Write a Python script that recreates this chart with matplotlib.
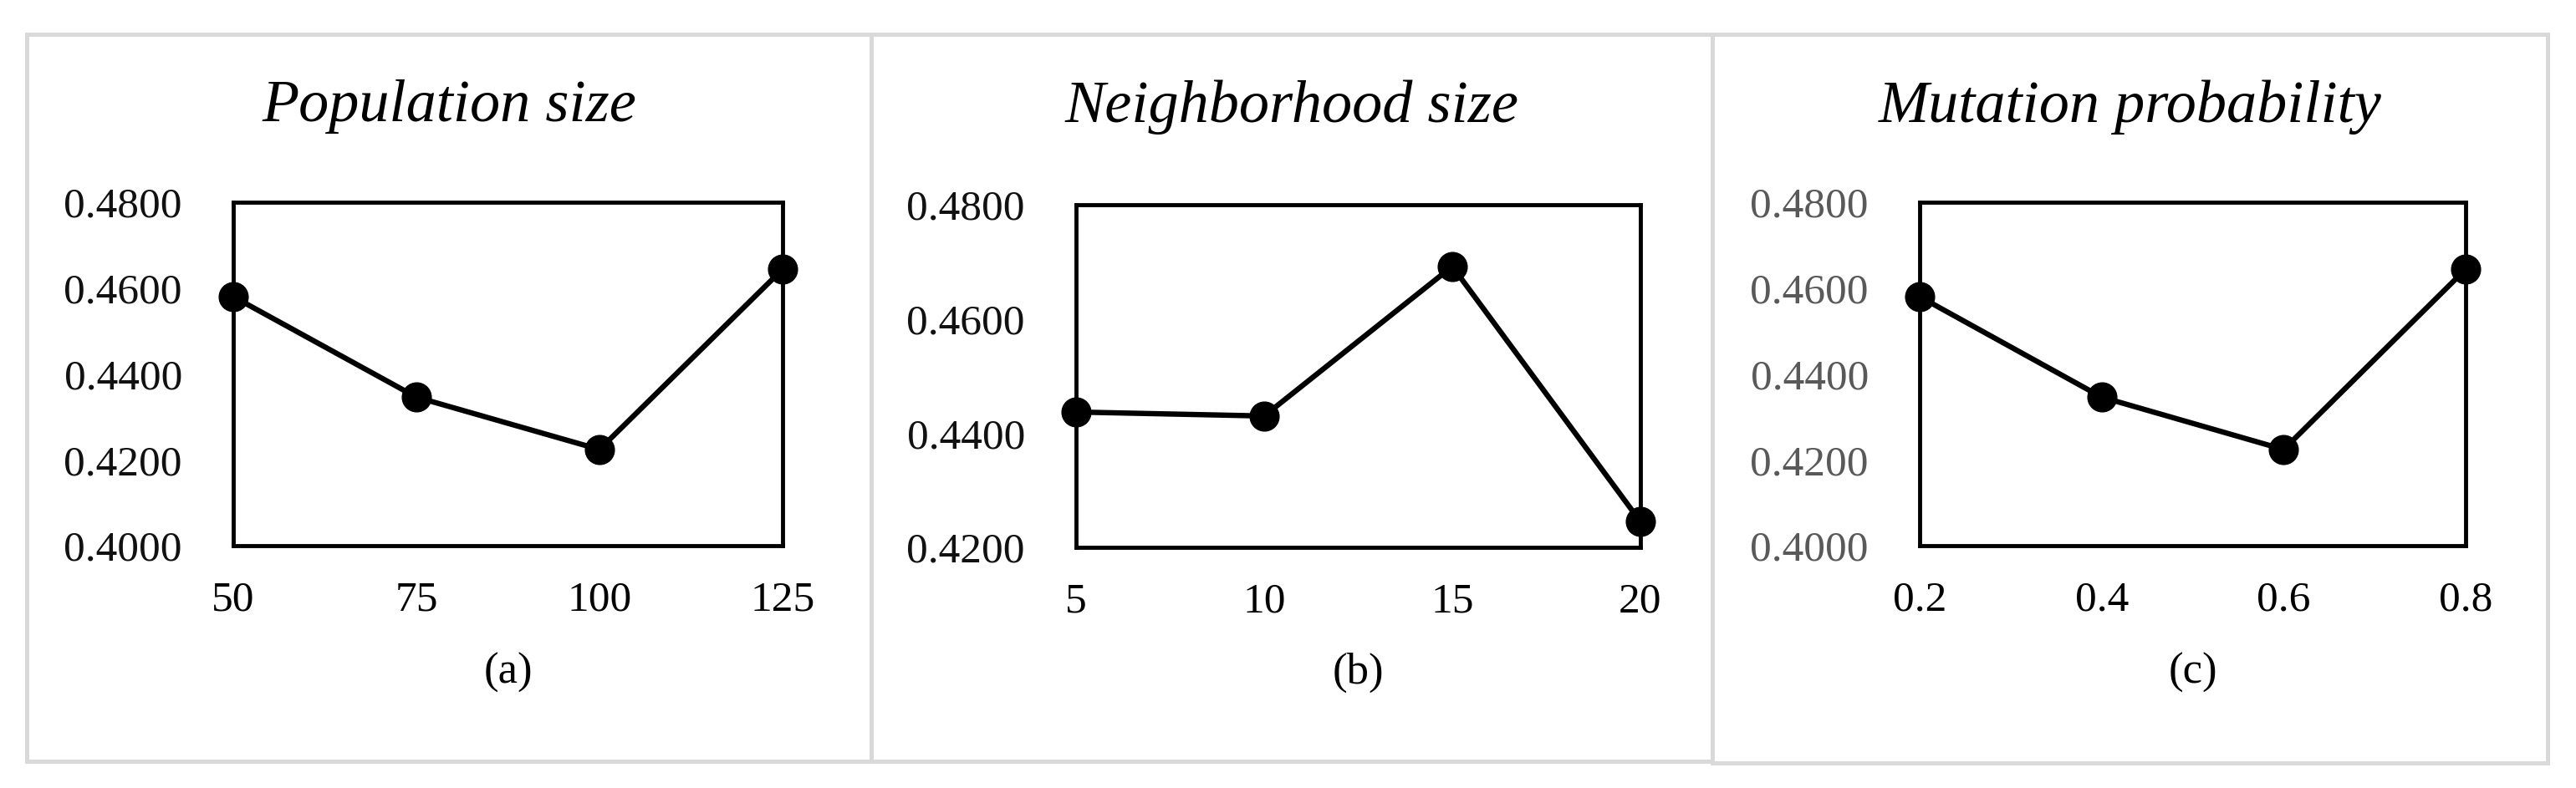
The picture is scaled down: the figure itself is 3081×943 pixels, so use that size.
import matplotlib
matplotlib.use("Agg")
import matplotlib.pyplot as plt
from matplotlib.patches import Rectangle

# ---- data ----
titles = ["Population size", "Neighborhood size", "Mutation probability"]
sub_labels = ["(a)", "(b)", "(c)"]
x_pop = [50, 75, 100, 125]
x_pop_labels = ["50", "75", "100", "125"]
y_pop = [0.4580, 0.4346, 0.4224, 0.4644]
x_nei = [5, 10, 15, 20]
x_nei_labels = ["5", "10", "15", "20"]
y_nei = [0.4437, 0.4430, 0.4692, 0.4245]
x_mut = [0.2, 0.4, 0.6, 0.8]
x_mut_labels = ["0.2", "0.4", "0.6", "0.8"]
y_mut = [0.4580, 0.4346, 0.4224, 0.4644]
yticks_a = [0.40, 0.42, 0.44, 0.46, 0.48]
yticks_b = [0.42, 0.44, 0.46, 0.48]
yticks_c = [0.40, 0.42, 0.44, 0.46, 0.48]

W, H = 3081, 943
DPI = 100
plt.rcParams['font.family'] = ['Liberation Serif', 'DejaVu Serif']
fig = plt.figure(figsize=(W / DPI, H / DPI), dpi=DPI)
fig.patch.set_facecolor("white")

def fbox(x0, y0, x1, y1):
    return [x0 / W, 1 - y1 / H, (x1 - x0) / W, (y1 - y0) / H]

panels = [(32, 41, 1042, 911), (1042, 41, 2048, 911), (2048, 41, 3047, 913)]
axes_px = [(279, 242, 936, 653), (1287, 245, 1962, 655), (2296, 242, 2949, 653)]
xs = [x_pop, x_nei, x_mut]
xls = [x_pop_labels, x_nei_labels, x_mut_labels]
ys = [y_pop, y_nei, y_mut]
yts = [yticks_a, yticks_b, yticks_c]
ytick_colors = ["#111111", "#111111", "#595959"]

for i in range(3):
    px0, py0, px1, py1 = panels[i]
    fig.patches.append(Rectangle((px0 / W, 1 - py1 / H), (px1 - px0) / W, (py1 - py0) / H,
                                 transform=fig.transFigure, fill=False,
                                 edgecolor="#d9d9d9", linewidth=3.6, zorder=0))
    fig.text((px0 + px1) / 2 / W, 1 - 128 / H, titles[i], ha="center", va="center",
             fontsize=52, style="italic", color="black")
    ax = fig.add_axes(fbox(*axes_px[i]))
    ax.plot(xs[i], ys[i], color="black", linewidth=4.6, marker="o",
            markersize=25, markerfacecolor="black", markeredgecolor="black",
            clip_on=False, zorder=3, solid_joinstyle="round")
    ax.set_xlim(xs[i][0], xs[i][-1])
    ax.set_ylim(yts[i][0], yts[i][-1])
    ax.set_yticks(yts[i])
    ax.set_yticklabels([f"{v:.4f}" for v in yts[i]])
    ax.set_xticks(xs[i])
    ax.set_xticklabels(xls[i])
    ax.tick_params(axis="both", length=0, labelsize=37)
    ax.tick_params(axis="y", pad=44, labelcolor=ytick_colors[i])
    ax.tick_params(axis="x", pad=30, labelcolor="black")
    for s in ax.spines.values():
        s.set_linewidth(3.5)
        s.set_color("black")
    ax.set_facecolor("white")
    ax0, ay0, ax1, ay1 = axes_px[i]
    fig.text((ax0 + ax1) / 2 / W, 1 - 805 / H, sub_labels[i], ha="center", va="center",
             fontsize=38, color="black")

fig.savefig("out.png", dpi=DPI, facecolor="white")
